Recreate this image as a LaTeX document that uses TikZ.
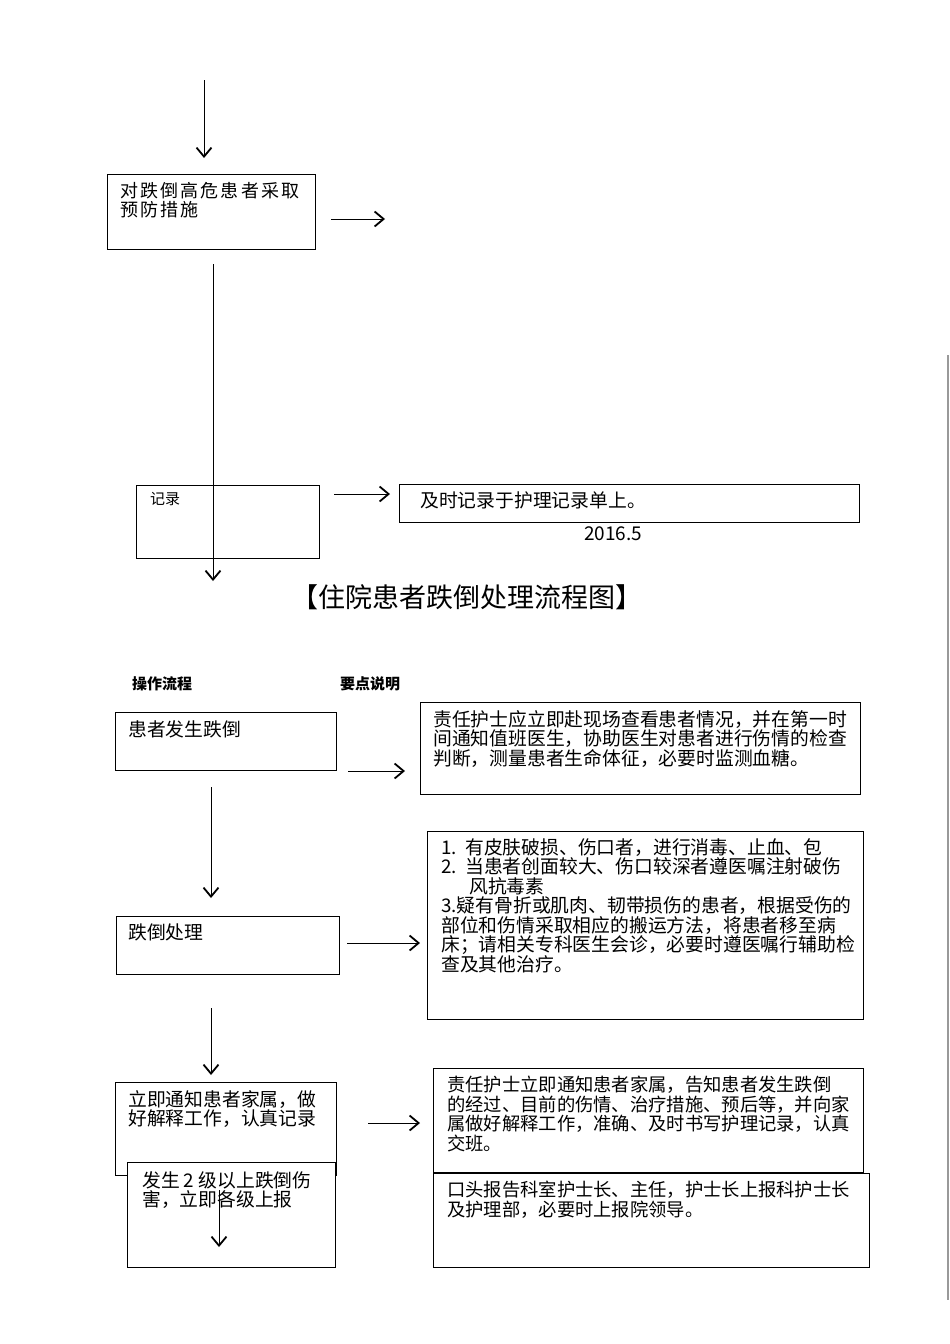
\documentclass[tikz,border=0pt]{standalone}
\usepackage{fontspec}
\setmainfont{Noto Sans CJK SC}
\usetikzlibrary{arrows.meta,positioning,calc}

\begin{document}
\begin{tikzpicture}
  [x=1pt,y=-1pt,
   box/.style={draw,line width=.9pt,fill=white,inner sep=0,anchor=north west},
   txt/.style={anchor=north west,inner sep=0,align=left,font=\fontsize{18.8}{19.5}\selectfont},
   arr/.style={line width=.9pt,-{Straight Barb[length=9pt,width=15pt,line width=1.8pt]}}]
  \useasboundingbox (0,0) rectangle (950,1344);

  % upper part
  \node[box,minimum width=208,minimum height=75] (risk) at (107,174) {};
  \node[txt,font=\fontsize{18}{19.5}\selectfont\addfontfeature{LetterSpace=12}] (risktxt) at ([shift={(13,8)}]risk.north west) {对跌倒高危患者采取\\预防措施};
  \node[box,fill=none,minimum width=183,minimum height=73] (rec) at (136,485) {};
  \node[txt,font=\fontsize{15}{16}\selectfont] (rectxt) at ([shift={(14,7)}]rec.north west) {记录};
  \node[box,minimum width=460,minimum height=38] (recnote) at (399,484) {};
  \node[txt] (recnotetxt) at ([shift={(21,8)}]recnote.north west) {及时记录于护理记录单上。};
  \node[font=\fontsize{19}{20}\selectfont] (date) at (613,534) {2016.5};

  \coordinate (t0) at (204,80);
  \coordinate (t1) at (204,158);
  \coordinate (r0) at (331,219);
  \coordinate (r1) at (385,219);
  \coordinate (v0) at (213,264);
  \coordinate (v1) at (213,581);
  \coordinate (n0) at (334,494);
  \coordinate (n1) at (390,494);
  \draw[arr] (t0) -- (t1);
  \draw[arr] (r0) -- (r1);
  \draw[arr] (v0) -- (v1);
  \draw[arr] (n0) -- (n1);

  % title
  \node[font=\fontsize{27}{30}\selectfont] (title) at (467,597) {【住院患者跌倒处理流程图】};
  \node[font=\fontsize{15}{17}\selectfont\bfseries] (hdrleft) at (162,684) {操作流程};
  \node[font=\fontsize{15}{17}\selectfont\bfseries] (hdrright) at (370,684) {要点说明};

  % lower part
  \node[box,minimum width=221,minimum height=58] (fall) at (115,712) {};
  \node[txt] (falltxt) at ([shift={(13,8)}]fall.north west) {患者发生跌倒};
  \node[box,minimum width=440,minimum height=92] (fallnote) at (420,702) {};
  \node[txt] (fallnotetxt) at ([shift={(13,8)}]fallnote.north west)
    {责任护士应立即赴现场查看患者情况，并在第一时\\间通知值班医生，协助医生对患者进行伤情的检查\\判断，测量患者生命体征，必要时监测血糖。};

  \node[box,minimum width=223,minimum height=58] (treat) at (116,916) {};
  \node[txt] (treattxt) at ([shift={(12,8)}]treat.north west) {跌倒处理};
  \node[box,minimum width=436,minimum height=188] (treatnote) at (427,831) {};
  \node[txt] (treatnotetxt) at ([shift={(14,7)}]treatnote.north west)
    {1.\ \ 有皮肤破损、伤口者，进行消毒、止血、包\\
     2.\ \ 当患者创面较大、伤口较深者遵医嘱注射破伤\\
     \hspace*{28pt}风抗毒素\\
     3.疑有骨折或肌肉、韧带损伤的患者，根据受伤的\\
     部位和伤情采取相应的搬运方法，将患者移至病\\
     床；请相关专科医生会诊，必要时遵医嘱行辅助检\\
     查及其他治疗。};

  \node[box,minimum width=221,minimum height=93] (family) at (115,1082) {};
  \node[txt] (familytxt) at ([shift={(13,8)}]family.north west) {立即通知患者家属，做\\好解释工作，认真记录};
  \node[box,minimum width=208,minimum height=105] (report) at (127,1162) {};
  \node[txt] (reporttxt) at ([shift={(15,9)}]report.north west) {发生 2 级以上跌倒伤\\害，立即各级上报};
  \node[box,minimum width=430,minimum height=104] (familynote) at (433,1068) {};
  \node[txt,font=\fontsize{18.3}{19.5}\selectfont] (familynotetxt) at ([shift={(14,8)}]familynote.north west)
    {责任护士立即通知患者家属，告知患者发生跌倒\\的经过、目前的伤情、治疗措施、预后等，并向家\\属做好解释工作，准确、及时书写护理记录，认真\\交班。};
  \node[box,minimum width=436,minimum height=94] (reportnote) at (433,1173) {};
  \node[txt,font=\fontsize{18.3}{19.5}\selectfont] (reportnotetxt) at ([shift={(14,8)}]reportnote.north west)
    {口头报告科室护士长、主任，护士长上报科护士长\\及护理部，必要时上报院领导。};

  \coordinate (a0) at (348,771);
  \coordinate (a1) at (405,771);
  \coordinate (b0) at (211,787);
  \coordinate (b1) at (211,898);
  \coordinate (c0) at (347,943);
  \coordinate (c1) at (420,943);
  \coordinate (d0) at (211,1008);
  \coordinate (d1) at (211,1075);
  \coordinate (e0) at (368,1123);
  \coordinate (e1) at (420,1123);
  \coordinate (f0) at (219,1190);
  \coordinate (f1) at (219,1247);
  \draw[arr] (a0) -- (a1);
  \draw[arr] (b0) -- (b1);
  \draw[arr] (c0) -- (c1);
  \draw[arr] (d0) -- (d1);
  \draw[arr] (e0) -- (e1);
  \draw[arr] (f0) -- (f1);

  % page edge
  \draw[gray!80,line width=1.5pt] (948,355) -- (948,1300);
\end{tikzpicture}
\end{document}
